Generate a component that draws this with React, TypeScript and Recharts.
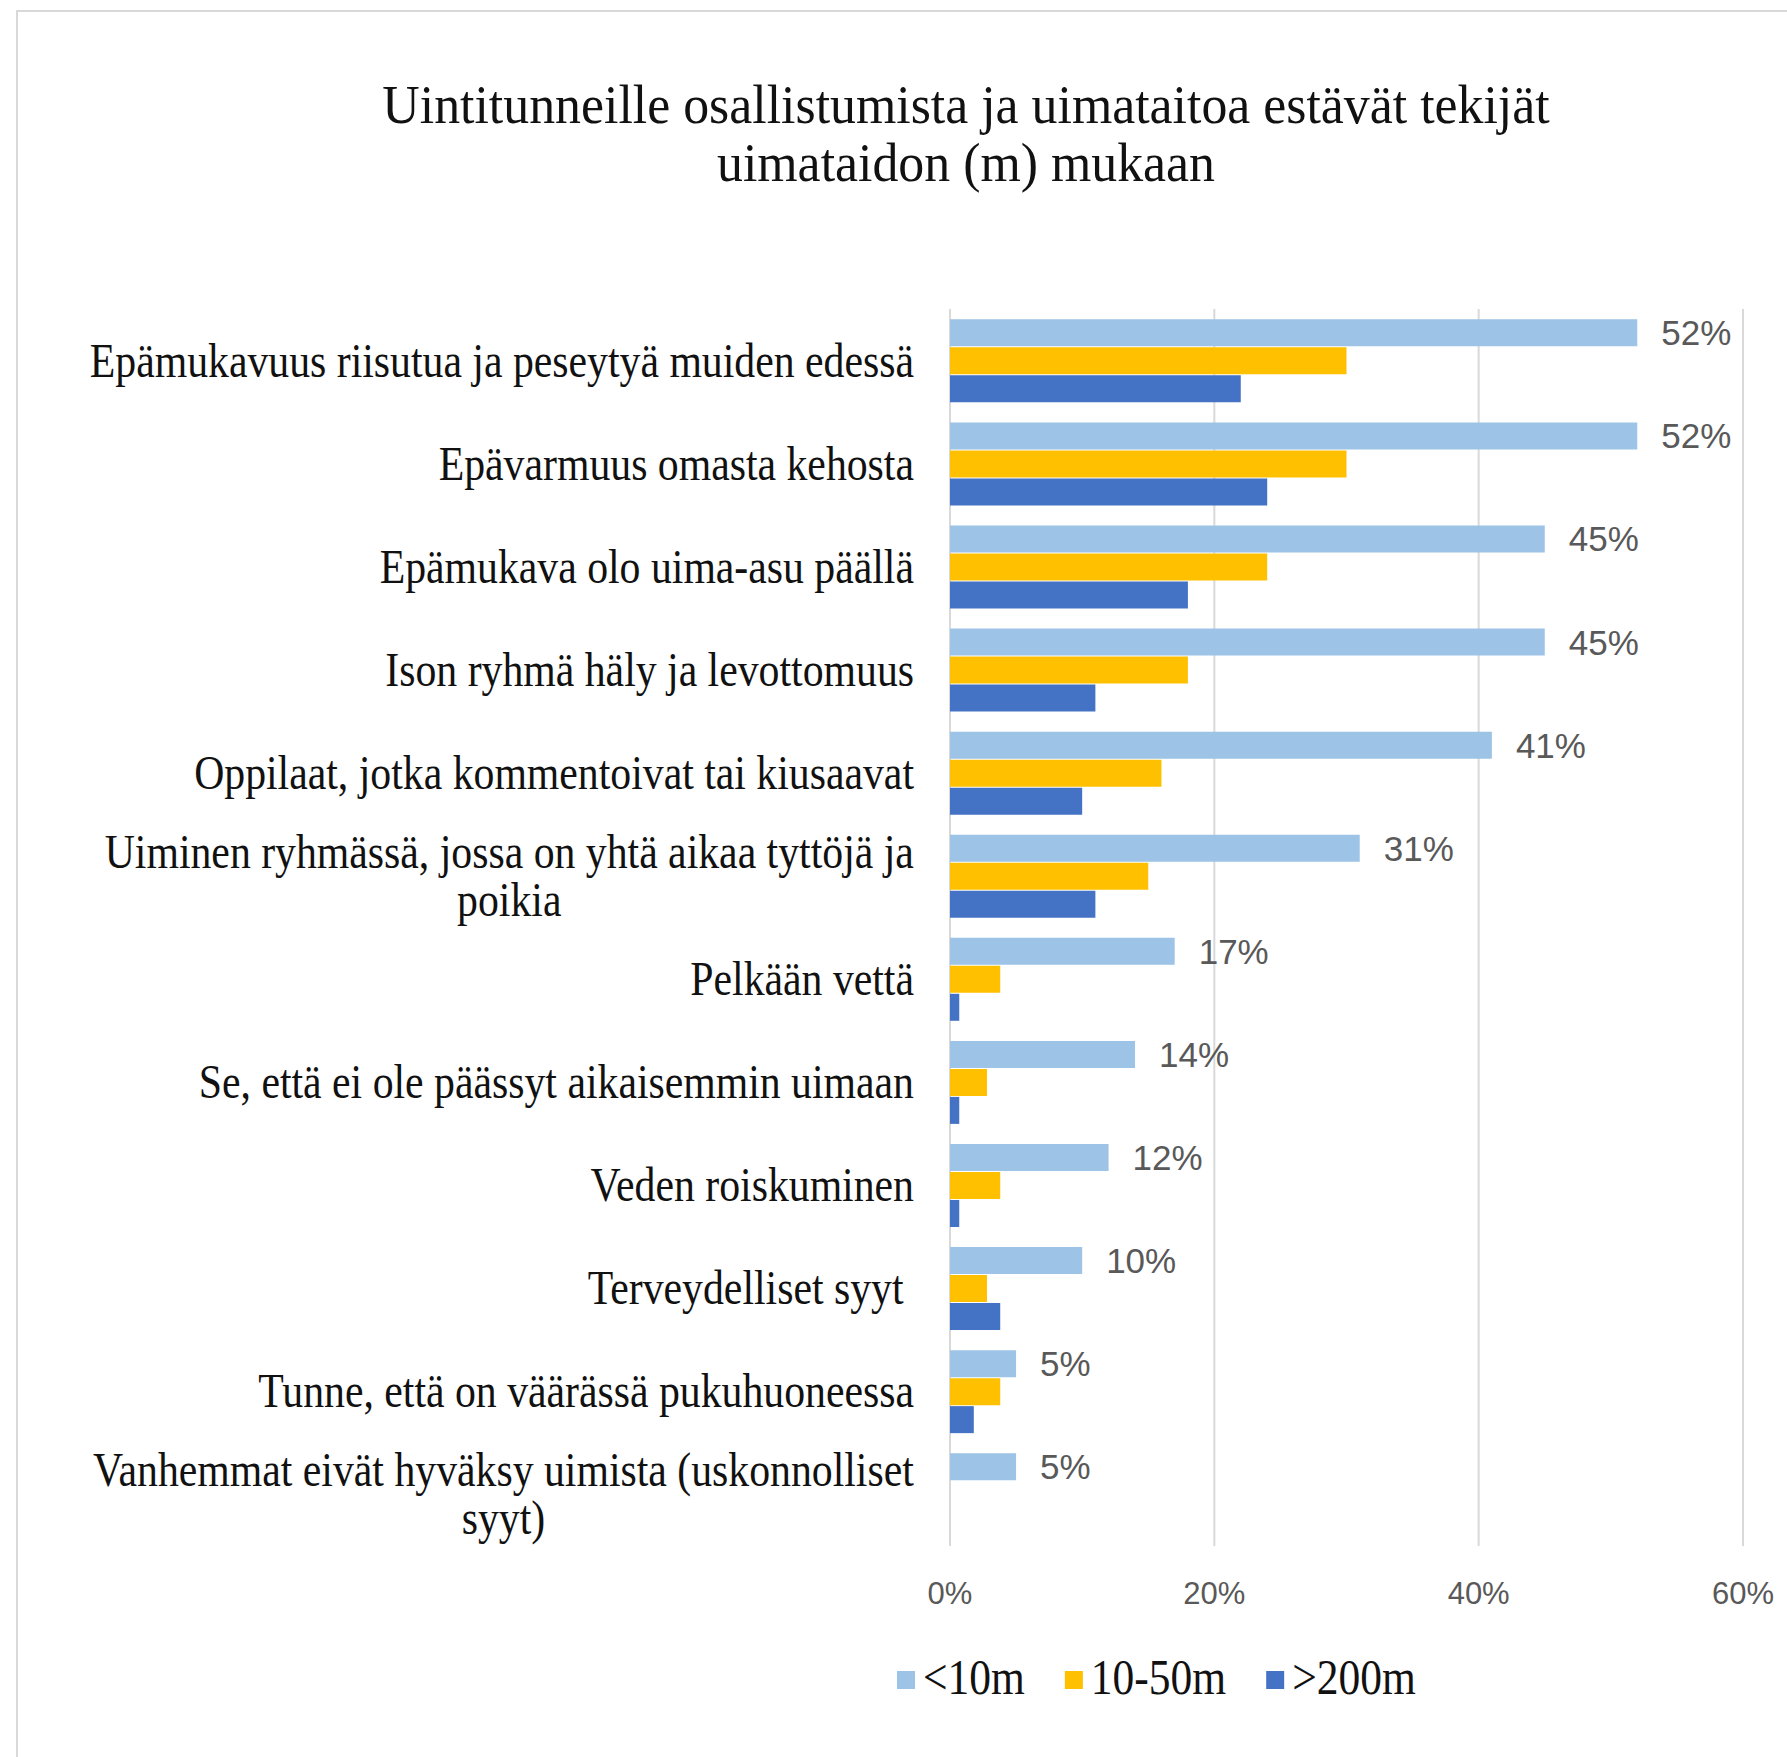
import React from 'react';
import { BarChart, Bar, XAxis, YAxis, CartesianGrid, LabelList, Legend } from 'recharts';

const titleLines = ['Uintitunneille osallistumista ja uimataitoa estävät tekijät', 'uimataidon (m) mukaan'];

const categories = [
  'Epämukavuus riisutua ja peseytyä muiden edessä',
  'Epävarmuus omasta kehosta',
  'Epämukava olo uima-asu päällä',
  'Ison ryhmä häly ja levottomuus',
  'Oppilaat, jotka kommentoivat tai kiusaavat',
  'Uiminen ryhmässä, jossa on yhtä aikaa tyttöjä ja\npoikia',
  'Pelkään vettä',
  'Se, että ei ole päässyt aikaisemmin uimaan',
  'Veden roiskuminen',
  'Terveydelliset syyt ',
  'Tunne, että on väärässä pukuhuoneessa',
  'Vanhemmat eivät hyväksy uimista (uskonnolliset\nsyyt)',
];

const seriesNames = ['<10m', '10-50m', '>200m'];
const under10 = [52, 52, 45, 45, 41, 31, 17, 14, 12, 10, 5, 5];
const m10to50 = [30, 30, 24, 18, 16, 15, 3.8, 2.8, 3.8, 2.8, 3.8, 0];
const over200 = [22, 24, 18, 11, 10, 11, 0.7, 0.7, 0.7, 3.8, 1.8, 0];
const xTicks = [0, 20, 40, 60];

const colors = ['#9DC3E6', '#FFC000', '#4472C4'];

const data = categories.map((name, i) => ({
  name,
  u10: under10[i],
  m1050: m10to50[i],
  o200: over200[i],
}));

const SERIF = '"Liberation Serif", "Times New Roman", serif';
const SANS = '"Liberation Sans", Arial, sans-serif';
const SCALE = 0.87;
const CAT_FONT = 48;
const LEG_FONT = 50;
const TITLE_FONT = 54;
const TITLE_SCALE = 0.96;

let ctx: CanvasRenderingContext2D | null = null;
function measure(text: string, font: string): number {
  if (!ctx) {
    ctx = document.createElement('canvas').getContext('2d');
  }
  if (!ctx) return text.length * 20;
  ctx.font = font;
  return ctx.measureText(text).width;
}

const LABEL_RIGHT = 914;
const LINE_H = 48;

function CatTick(props: any) {
  const { y, payload } = props;
  const lines = String(payload.value).split('\n');
  const font = `${CAT_FONT}px "Liberation Serif"`;
  const widths = lines.map((l) => measure(l, font));
  const maxW = Math.max(...widths) * SCALE;
  const n = lines.length;
  const firstBase = y - ((n - 1) * LINE_H) / 2 + 16;
  if (n === 1) {
    return (
      <text
        transform={`translate(${LABEL_RIGHT},${firstBase}) scale(${SCALE},1)`}
        textAnchor="end"
        fontFamily={SERIF}
        fontSize={CAT_FONT}
        fill="#111"
        style={{ whiteSpace: 'pre' }}
      >
        {lines[0]}
      </text>
    );
  }
  const cx = LABEL_RIGHT - maxW / 2;
  return (
    <g>
      {lines.map((l, i) => (
        <text
          key={i}
          transform={`translate(${cx},${firstBase + i * LINE_H}) scale(${SCALE},1)`}
          textAnchor="middle"
          fontFamily={SERIF}
          fontSize={CAT_FONT}
          fill="#111"
          style={{ whiteSpace: 'pre' }}
        >
          {l}
        </text>
      ))}
    </g>
  );
}

function XTick(props: any) {
  const { x, payload } = props;
  return (
    <text x={x} y={1604} textAnchor="middle" fontFamily={SANS} fontSize={31} fill="#595959">
      {`${payload.value}%`}
    </text>
  );
}

function ValueLabel(props: any) {
  const { x, y, width, height, value } = props;
  return (
    <text
      x={Number(x) + Number(width) + 24}
      y={Number(y) + Number(height) / 2 + 12.5}
      textAnchor="start"
      fontFamily={SANS}
      fontSize={35}
      fill="#595959"
    >
      {`${value}%`}
    </text>
  );
}

function LegendContent(props: any) {
  const payload = [...(props.payload || [])].sort(
    (a: any, b: any) => seriesNames.indexOf(String(a.value)) - seriesNames.indexOf(String(b.value))
  );
  const font = `${LEG_FONT}px "Liberation Serif"`;
  let cx = 897;
  const items = payload.map((p: any, i: number) => {
    const label = String(p.value);
    const w = measure(label, font) * SCALE;
    const sx = cx;
    cx = sx + 26 + w + 40;
    return (
      <g key={i}>
        <rect x={sx} y={21} width={18} height={18} fill={p.color} />
        <text
          transform={`translate(${sx + 26},44) scale(${SCALE},1)`}
          fontFamily={SERIF}
          fontSize={LEG_FONT}
          fill="#111"
        >
          {label}
        </text>
      </g>
    );
  });
  return (
    <svg width={1787} height={70} style={{ display: 'block' }}>
      {items}
    </svg>
  );
}

export default function App() {
  return (
    <div style={{ position: 'relative', width: 1787, height: 1757, background: '#fff', overflow: 'hidden' }}>
      <style>{'body{margin:0;}'}</style>
      <div
        style={{
          position: 'absolute',
          left: 16,
          top: 10,
          width: 1771,
          height: 1747,
          borderLeft: '2px solid #d9d9d9',
          borderTop: '2px solid #d9d9d9',
          boxSizing: 'border-box',
        }}
      />
      <svg width={1787} height={220} style={{ position: 'absolute', left: 0, top: 0 }}>
        {titleLines.map((t, i) => (
          <text
            key={i}
            transform={`translate(966,${123 + i * 58}) scale(${TITLE_SCALE},1)`}
            textAnchor="middle"
            fontFamily={SERIF}
            fontSize={TITLE_FONT}
            fill="#111"
          >
            {t}
          </text>
        ))}
      </svg>
      <div style={{ position: 'absolute', left: 0, top: 0 }}>
        <BarChart
          width={1787}
          height={1757}
          data={data}
          layout="vertical"
          margin={{ top: 309, right: 44, bottom: 151, left: 0 }}
          barCategoryGap="10%"
          barGap={1}
        >
          <CartesianGrid horizontal={false} vertical={true} stroke="#d9d9d9" strokeWidth={2} />
          <XAxis
            type="number"
            domain={[0, 60]}
            ticks={xTicks}
            axisLine={false}
            tickLine={false}
            height={60}
            tick={(p: any) => <XTick {...p} />}
            interval={0}
          />
          <YAxis
            type="category"
            dataKey="name"
            width={950}
            axisLine={false}
            tickLine={false}
            interval={0}
            tick={(p: any) => <CatTick {...p} />}
          />
          <Legend
            layout="horizontal"
            align="center"
            verticalAlign="middle"
            wrapperStyle={{ position: 'absolute', left: 0, top: 1650, width: 1787, height: 70 }}
            content={(p: any) => <LegendContent {...p} />}
          />
          <Bar dataKey="u10" name={seriesNames[0]} fill={colors[0]} isAnimationActive={false}>
            <LabelList dataKey="u10" content={(p: any) => <ValueLabel {...p} />} />
          </Bar>
          <Bar dataKey="m1050" name={seriesNames[1]} fill={colors[1]} isAnimationActive={false} />
          <Bar dataKey="o200" name={seriesNames[2]} fill={colors[2]} isAnimationActive={false} />
        </BarChart>
      </div>
    </div>
  );
}
